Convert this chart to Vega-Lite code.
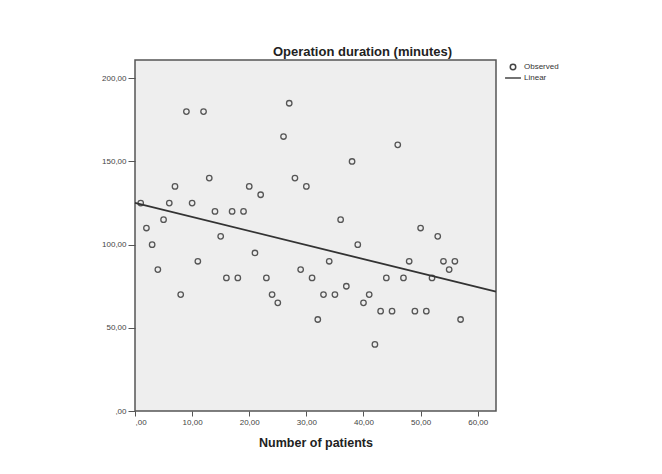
{
  "$schema": "https://vega.github.io/schema/vega-lite/v6.json",
  "autosize": {"type": "none"},
  "width": 361,
  "height": 351,
  "padding": {"left": 135, "top": 60, "right": 166, "bottom": 63},
  "background": "#ffffff",
  "config": {
    "font": "Liberation Sans",
    "view": {"fill": "#eeeeee", "stroke": "#555555", "strokeWidth": 1.5},
    "axis": {"labelFont": "Liberation Sans", "labelFontSize": 8, "labelColor": "#444444", "tickColor": "#555555", "grid": false, "domain": false}
  },
  "title": {"text": "Operation duration (minutes)", "font": "Liberation Sans", "fontSize": 13, "fontWeight": "bold", "color": "#222222", "anchor": "middle", "frame": "group", "dx": 47, "offset": 1},
  "data": {"values": [
    {"x":1,"y":125},{"x":2,"y":110},{"x":3,"y":100},{"x":4,"y":85},{"x":5,"y":115},
    {"x":6,"y":125},{"x":7,"y":135},{"x":8,"y":70},{"x":9,"y":180},{"x":10,"y":125},
    {"x":11,"y":90},{"x":12,"y":180},{"x":13,"y":140},{"x":14,"y":120},{"x":15,"y":105},
    {"x":16,"y":80},{"x":17,"y":120},{"x":18,"y":80},{"x":19,"y":120},{"x":20,"y":135},
    {"x":21,"y":95},{"x":22,"y":130},{"x":23,"y":80},{"x":24,"y":70},{"x":25,"y":65},
    {"x":26,"y":165},{"x":27,"y":185},{"x":28,"y":140},{"x":29,"y":85},{"x":30,"y":135},
    {"x":31,"y":80},{"x":32,"y":55},{"x":33,"y":70},{"x":34,"y":90},{"x":35,"y":70},
    {"x":36,"y":115},{"x":37,"y":75},{"x":38,"y":150},{"x":39,"y":100},{"x":40,"y":65},
    {"x":41,"y":70},{"x":42,"y":40},{"x":43,"y":60},{"x":44,"y":80},{"x":45,"y":60},
    {"x":46,"y":160},{"x":47,"y":80},{"x":48,"y":90},{"x":49,"y":60},{"x":50,"y":110},
    {"x":51,"y":60},{"x":52,"y":80},{"x":53,"y":105},{"x":54,"y":90},{"x":55,"y":85},
    {"x":56,"y":90},{"x":57,"y":55}
  ]},
  "encoding": {
    "x": {"field": "x", "type": "quantitative", "scale": {"domain": [0, 63.2], "nice": false, "zero": false},
      "axis": {"values": [0,10,20,30,40,50,60], "tickSize": 5, "labelPadding": 2, "labelExpr": "datum.value == 0 ? ',00' : replace(format(datum.value, '.2f'), '.', ',')",
        "title": "Number of patients", "titleFont": "Liberation Sans", "titleFontSize": 12.5, "titleFontWeight": "bold", "titleColor": "#222222", "titlePadding": 10}},
    "y": {"field": "y", "type": "quantitative", "scale": {"domain": [0, 211], "nice": false, "zero": false},
      "axis": {"values": [0,50,100,150,200], "tickSize": 7, "labelPadding": 2, "labelExpr": "datum.value == 0 ? ',00' : replace(format(datum.value, '.2f'), '.', ',')", "title": null}}
  },
  "layer": [
    {
      "transform": [{"calculate": "'Observed'", "as": "series"}],
      "mark": {"type": "point", "filled": false, "strokeWidth": 1.3, "color": "#555555", "opacity": 1},
      "encoding": {
        "shape": {"field": "series", "type": "nominal", "scale": {"domain": ["Observed", "Linear"], "range": ["circle", "M-2.9,0L2.9,0"]},
          "legend": {"title": null, "orient": "none", "legendX": 374, "legendY": 3, "labelFont": "Liberation Sans", "labelFontSize": 8, "labelColor": "#333333", "symbolStrokeColor": "#444444", "symbolStrokeWidth": 1.5, "symbolSize": 30, "rowPadding": 1, "padding": 0, "labelOffset": 7}},
        "size": {"value": 30}
      }
    },
    {
      "transform": [{"regression": "y", "on": "x", "extent": [0, 63.2]}],
      "mark": {"type": "line", "color": "#333333", "strokeWidth": 1.8},
      "encoding": {}
    }
  ]
}
